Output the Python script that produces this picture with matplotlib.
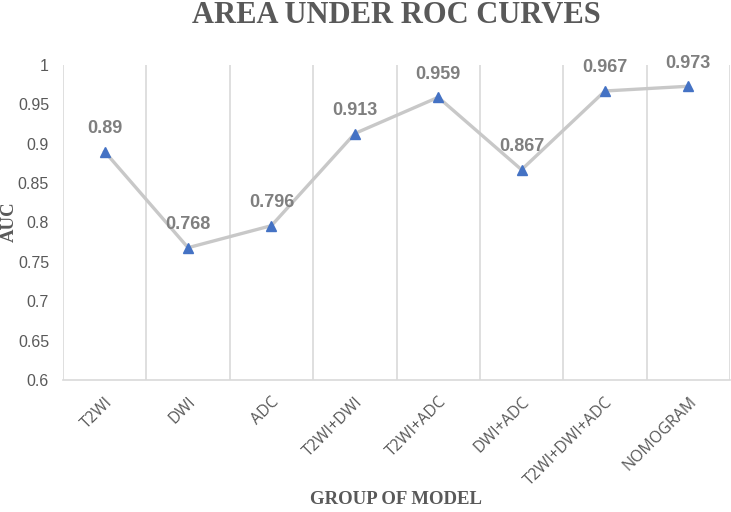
import matplotlib
matplotlib.use("Agg")
import matplotlib.pyplot as plt

categories = ["T2WI", "DWI", "ADC", "T2WI+DWI", "T2WI+ADC", "DWI+ADC", "T2WI+DWI+ADC", "NOMOGRAM"]
auc_values = [0.89, 0.768, 0.796, 0.913, 0.959, 0.867, 0.967, 0.973]
value_labels = ["0.89", "0.768", "0.796", "0.913", "0.959", "0.867", "0.967", "0.973"]
y_ticks = [0.6, 0.65, 0.7, 0.75, 0.8, 0.85, 0.9, 0.95, 1.0]
y_tick_labels = ["0.6", "0.65", "0.7", "0.75", "0.8", "0.85", "0.9", "0.95", "1"]

W, H = 731, 512
fig = plt.figure(figsize=(W / 100, H / 100), dpi=100)
ax = fig.add_axes([63 / W, 1 - 380 / H, (730 - 63) / W, (380 - 65) / H])

x = list(range(len(categories)))
ax.plot(x, auc_values, color="#c8c8c8", lw=2.4, zorder=2)
ax.plot(x, auc_values, ls="none", marker="^", ms=7.8, color="#4472c4", zorder=3)

for xi, v, lab in zip(x, auc_values, value_labels):
    ax.annotate(lab, (xi, v), xytext=(0, 10.5), textcoords="offset points",
                ha="center", va="bottom", fontsize=13, fontweight="bold",
                color="#7f7f7f", family="Liberation Sans")

ax.set_xlim(-0.5, len(categories) - 0.5)
ax.set_ylim(0.6, 1.0)

ax.set_yticks(y_ticks)
ax.set_yticklabels(y_tick_labels, fontsize=11.5, color="#595959", family="Liberation Sans")
ax.tick_params(axis="y", length=0, pad=10)

ax.set_xticks(x)
ax.set_xticklabels(categories, rotation=45, ha="right", rotation_mode="anchor",
                   fontsize=11.5, color="#595959", family="Open Sans")
ax.tick_params(axis="x", length=0, pad=10)

# vertical gridlines at category boundaries
bounds = [i - 0.5 for i in range(len(categories) + 1)]
for b in bounds:
    ax.axvline(b, color="#d9d9d9", lw=1.2, zorder=1)

for s in ["top", "right", "left"]:
    ax.spines[s].set_visible(False)
ax.spines["bottom"].set_color("#d9d9d9")
ax.spines["bottom"].set_linewidth(1.2)

fig.text(0.5 * (63 + 730) / W, 1 - 23 / H, "AREA UNDER ROC CURVES", ha="center", va="baseline",
         fontsize=22, fontweight="bold", color="#595959", family="Liberation Serif")
fig.text(9 / W, 1 - 222 / H, "AUC", rotation=90, ha="center", va="center",
         fontsize=13.5, fontweight="bold", color="#595959", family="Liberation Serif")
fig.text(396 / W, 1 - 500 / H, "GROUP OF MODEL", ha="center", va="center",
         fontsize=13.5, fontweight="bold", color="#595959", family="Liberation Serif")

fig.savefig("out.png", dpi=100)
